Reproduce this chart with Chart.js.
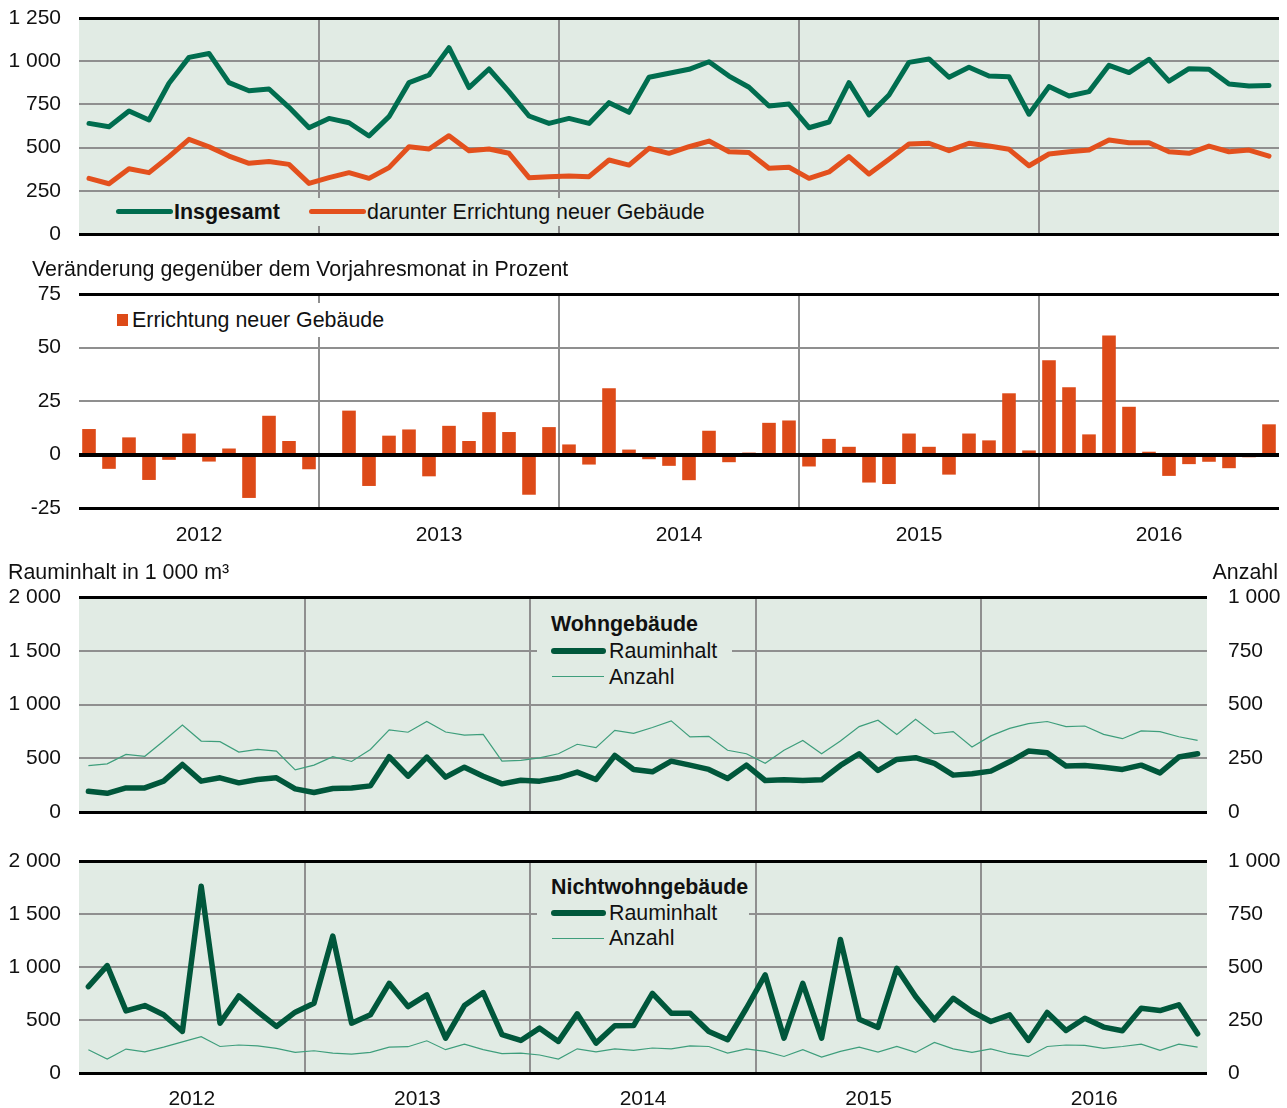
<!DOCTYPE html>
<html>
<head>
<meta charset="utf-8">
<script src="https://cdn.jsdelivr.net/npm/chart.js@4/dist/chart.umd.min.js"></script>
<style>
  html, body { margin: 0; padding: 0; background: #fff; }
  body { width: 1287px; height: 1108px; position: relative; overflow: hidden;
         font-family: "Liberation Sans", Arial, sans-serif; color: #111; }
  canvas { position: absolute; left: 0; }
  .t { position: absolute; font-size: 21.4px; line-height: 24px; white-space: nowrap; }
  .b { font-weight: bold; }
  .box { position: absolute; }
  .ln { position: absolute; border-radius: 3px; }
</style>
</head>
<body>
<canvas id="c1" width="1287" height="284" style="top:-16px"></canvas>
<canvas id="c2" width="1287" height="292" style="top:260px"></canvas>
<canvas id="c3" width="1287" height="286" style="top:561px"></canvas>
<canvas id="c4" width="1287" height="284" style="top:825px"></canvas>

<!-- Panel 1 legend -->
<div class="box" style="left:105px;top:198px;width:610px;height:28px;background:#E1EBE4"></div>
<div class="ln" style="left:116px;top:209px;width:57px;height:5px;background:#006D4F"></div>
<div class="t b" style="left:174px;top:200px">Insgesamt</div>
<div class="ln" style="left:309px;top:209px;width:57px;height:5px;background:#E3501D"></div>
<div class="t" style="left:367px;top:200px">darunter Errichtung neuer Gebäude</div>

<!-- Panel 2 title + legend -->
<div class="t" style="left:32px;top:257px">Veränderung gegenüber dem Vorjahresmonat in Prozent</div>
<div class="box" style="left:110px;top:303px;width:282px;height:34px;background:#fff"></div>
<div class="box" style="left:117px;top:314px;width:11px;height:12px;background:#DD4A18"></div>
<div class="t" style="left:132px;top:308px">Errichtung neuer Gebäude</div>

<!-- Panel 3 titles + legend -->
<div class="t" style="left:8px;top:560px">Rauminhalt in 1 000 m³</div>
<div class="t" style="right:9px;top:560px">Anzahl</div>
<div class="box" style="left:537px;top:607px;width:195px;height:82px;background:#E1EBE4"></div>
<div class="t b" style="left:551px;top:612px">Wohngebäude</div>
<div class="ln" style="left:551px;top:648px;width:55px;height:6px;background:#00573B"></div>
<div class="t" style="left:609px;top:639px">Rauminhalt</div>
<div class="box" style="left:552px;top:676px;width:52px;height:1px;background:#3E9E7C"></div>
<div class="t" style="left:609px;top:665px">Anzahl</div>

<!-- Panel 4 legend -->
<div class="box" style="left:537px;top:870px;width:212px;height:82px;background:#E1EBE4"></div>
<div class="t b" style="left:551px;top:875px">Nichtwohngebäude</div>
<div class="ln" style="left:551px;top:910px;width:55px;height:6px;background:#00573B"></div>
<div class="t" style="left:609px;top:901px">Rauminhalt</div>
<div class="box" style="left:552px;top:938px;width:52px;height:1px;background:#3E9E7C"></div>
<div class="t" style="left:609px;top:926px">Anzahl</div>

<script>
// ---------------- DATA ----------------
const yearLabels = ['2012', '2013', '2014', '2015', '2016'];
const monthNames = ['Jan', 'Feb', 'Mär', 'Apr', 'Mai', 'Jun', 'Jul', 'Aug', 'Sep', 'Okt', 'Nov', 'Dez'];
const categories = yearLabels.flatMap(y => monthNames.map(m => m + ' ' + y));

// Baugenehmigungen, Rauminhalt (1 000 m³)
const insgesamt = [640,621,712,660,872,1022,1045,876,829,839,733,615,
                   669,644,567,679,876,920,1078,847,955,824,683,640,
                   669,640,760,704,907,930,953,997,914,849,741,752,
                   615,648,876,689,804,993,1013,907,965,914,910,693,
                   853,799,824,976,934,1011,885,957,953,868,856,860];
const errichtung = [322,291,378,355,448,548,505,451,409,419,403,293,
                    326,355,322,384,505,492,569,482,492,467,326,332,
                    336,332,428,399,496,467,505,538,476,471,380,386,
                    322,359,448,347,432,521,525,482,525,509,490,395,
                    463,476,486,544,528,528,476,467,509,476,486,451];
// Veränderung gegenüber dem Vorjahresmonat in Prozent
const veraenderung = [11.9,-6.7,8.0,-11.9,-2.5,9.8,-3.3,2.8,-20.3,18.1,6.3,-6.9,
                      0.0,20.5,-14.7,8.8,11.7,-10.2,13.4,6.3,19.8,10.5,-18.8,12.8,
                      4.7,-4.7,30.9,2.3,-2.2,-5.3,-12.0,11.1,-3.6,0.9,14.8,15.9,
                      -5.6,7.3,3.6,-13.1,-13.8,9.8,3.6,-9.4,9.8,6.6,28.6,1.9,
                      44.1,31.4,9.4,55.6,22.3,1.3,-10.0,-4.5,-3.4,-6.4,-1.3,14.1];
// Wohngebäude
const wohnRauminhalt = [193,174,224,224,287,442,287,318,271,302,318,215,
                        181,218,224,243,514,333,511,324,417,333,262,296,
                        287,318,371,302,526,396,374,473,436,396,311,436,
                        293,299,293,299,433,542,386,489,505,452,343,355,
                        380,467,567,551,427,433,417,396,436,364,511,542];
const wohnAnzahl = [216,224,268,259,330,405,330,327,279,291,283,196,
                    218,257,235,291,382,371,421,372,358,361,237,240,
                    252,271,315,299,380,366,393,424,349,352,287,271,
                    227,287,333,271,330,397,427,361,431,364,374,302,
                    354,389,411,421,397,400,361,341,377,374,350,333];
// Nichtwohngebäude
const nichtwohnRauminhalt = [815,1013,586,636,549,392,1762,470,727,580,439,574,
                             658,1292,470,549,846,627,737,329,636,759,361,307,
                             423,298,558,282,445,448,752,564,564,392,314,611,
                             925,329,846,329,1260,508,430,988,721,502,705,580,
                             486,549,307,571,401,517,433,398,611,589,643,370];
const nichtwohnAnzahl = [110,66,113,100,122,147,171,125,132,128,116,97,
                         105,94,89,97,122,124,152,110,136,110,91,94,
                         85,66,114,100,114,107,118,114,128,125,94,114,
                         102,78,110,75,102,122,99,125,97,144,114,97,
                         114,91,78,125,132,130,116,125,136,107,136,122];

// ---------------- STYLE ----------------
const FONT = '"Liberation Sans", Arial, sans-serif';
Chart.defaults.font.family = FONT;
Chart.defaults.font.size = 21;
Chart.defaults.color = '#111';

const BG = '#E1EBE4';
const GRID = '#8F8F8F';
const BLACK = '#000';
const GREEN = '#006D4F';
const ORANGE = '#E3501D';
const DKGREEN = '#00573B';
const LTGREEN = '#3E9E7C';
const BAR = '#DD4A18';

const fmt = v => String(v).replace(/\B(?=(\d{3})+(?!\d))/g, ' ');

const bgPlugin = {
  id: 'bgArea',
  beforeDraw(chart, args, opts) {
    if (!opts || !opts.color) return;
    const { ctx, chartArea: a } = chart;
    ctx.save();
    ctx.fillStyle = opts.color;
    ctx.fillRect(a.left, a.top, a.right - a.left, a.bottom - a.top);
    ctx.restore();
  }
};
const zeroLinePlugin = {
  id: 'zeroLine',
  afterDatasetsDraw(chart, args, opts) {
    if (!opts || !opts.on) return;
    const { ctx, chartArea: a, scales } = chart;
    const y = Math.round(scales.y.getPixelForValue(0)) + 0.5;
    ctx.save();
    ctx.strokeStyle = BLACK;
    ctx.lineWidth = 3;
    ctx.beginPath();
    ctx.moveTo(a.left, y);
    ctx.lineTo(a.right, y);
    ctx.stroke();
    ctx.restore();
  }
};

function xAxis(height, showYears, slot, pad) {
  return {
    type: 'category',
    offset: true,
    border: { display: false },
    grid: {
      offset: true,
      drawTicks: false,
      color: c => (c.index > 0 && c.index < categories.length && c.index % 12 === 0) ? GRID : 'rgba(0,0,0,0)',
      lineWidth: 2
    },
    ticks: {
      display: showYears,
      autoSkip: false,
      maxRotation: 0,
      minRotation: 0,
      padding: pad,
      labelOffset: slot / 2,
      color: '#111',
      callback: (v, i) => (i % 12 === 5) ? yearLabels[Math.floor(i / 12)] : ''
    },
    afterFit: s => { s.height = height; }
  };
}

function yAxis(min, max, step, blackVals) {
  return {
    position: 'left',
    min: min, max: max,
    border: { display: false },
    grid: {
      drawTicks: false,
      color: c => blackVals.includes(c.tick.value) ? BLACK : GRID,
      lineWidth: c => blackVals.includes(c.tick.value) ? 3 : 2
    },
    ticks: { stepSize: step, padding: 18, color: '#111', callback: v => fmt(v) },
    afterFit: s => { s.width = 79; }
  };
}

function rightAxis() {
  return {
    position: 'right',
    min: 0, max: 1000,
    border: { display: false },
    grid: { display: false, drawTicks: false, drawOnChartArea: false },
    ticks: { stepSize: 250, padding: 21, color: '#111', callback: v => fmt(v) },
    afterFit: s => { s.width = 80; }
  };
}

const common = {
  responsive: false,
  animation: false,
  devicePixelRatio: 1,
  events: [],
};

// Panel 1  (chart area: y 18..234 on page)
new Chart(document.getElementById('c1'), {
  type: 'line',
  data: {
    labels: categories,
    datasets: [
      { label: 'Insgesamt', data: insgesamt, borderColor: GREEN, borderWidth: 5,
        pointRadius: 0, tension: 0, borderJoinStyle: 'round', borderCapStyle: 'round' },
      { label: 'darunter Errichtung neuer Gebäude', data: errichtung, borderColor: ORANGE, borderWidth: 5,
        pointRadius: 0, tension: 0, borderJoinStyle: 'round', borderCapStyle: 'round' }
    ]
  },
  options: Object.assign({}, common, {
    layout: { padding: { top: 34, right: 8, bottom: 0, left: 0 } },
    scales: {
      x: xAxis(34, false, 20, 13),
      y: yAxis(0, 1250, 250, [0, 1250])
    },
    plugins: { legend: { display: false }, tooltip: { enabled: false }, bgArea: { color: BG } }
  }),
  plugins: [bgPlugin]
});

// Panel 2  (chart area: y 294..508 on page)
new Chart(document.getElementById('c2'), {
  type: 'bar',
  data: {
    labels: categories,
    datasets: [
      { label: 'Errichtung neuer Gebäude', data: veraenderung, backgroundColor: BAR,
        borderWidth: 0, barPercentage: 0.68, categoryPercentage: 1.0 }
    ]
  },
  options: Object.assign({}, common, {
    layout: { padding: { top: 34, right: 8, bottom: 0, left: 0 } },
    scales: {
      x: xAxis(44, true, 20, 15),
      y: yAxis(-25, 75, 25, [-25, 0, 75])
    },
    plugins: { legend: { display: false }, tooltip: { enabled: false }, zeroLine: { on: true } }
  }),
  plugins: [zeroLinePlugin]
});

function buildingChart(id, raum, anzahl, topPad, xHeight, showYears) {
  return new Chart(document.getElementById(id), {
    type: 'line',
    data: {
      labels: categories,
      datasets: [
        { label: 'Rauminhalt', data: raum, yAxisID: 'y', borderColor: DKGREEN, borderWidth: 5.5,
          pointRadius: 0, tension: 0, borderJoinStyle: 'round', borderCapStyle: 'round' },
        { label: 'Anzahl', data: anzahl, yAxisID: 'y2', borderColor: LTGREEN, borderWidth: 1.2,
          pointRadius: 0, tension: 0 }
      ]
    },
    options: Object.assign({}, common, {
      layout: { padding: { top: topPad, right: 0, bottom: 0, left: 0 } },
      scales: {
        x: xAxis(xHeight, showYears, 18.8, 14),
        y: yAxis(0, 2000, 500, [0, 2000]),
        y2: rightAxis()
      },
      plugins: { legend: { display: false }, tooltip: { enabled: false }, bgArea: { color: BG } }
    }),
    plugins: [bgPlugin]
  });
}

// Panel 3 (chart area: y 597..812), Panel 4 (chart area: y 861..1073)
buildingChart('c3', wohnRauminhalt, wohnAnzahl, 36, 35, false);
buildingChart('c4', nichtwohnRauminhalt, nichtwohnAnzahl, 36, 36, true);
</script>
</body>
</html>
